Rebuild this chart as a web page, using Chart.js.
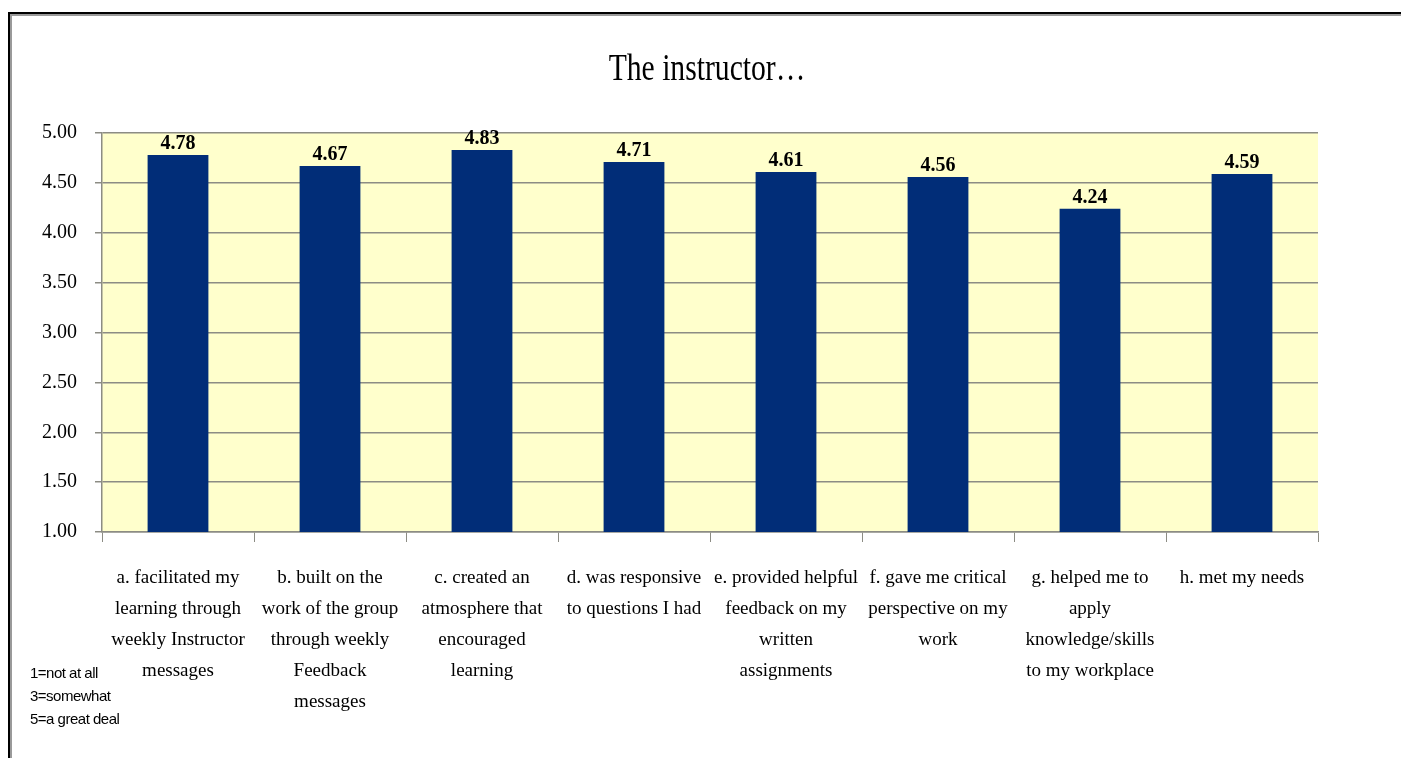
<!DOCTYPE html>
<html>
<head>
<meta charset="utf-8">
<script src="https://cdn.jsdelivr.net/npm/chart.js@4"></script>
<style>
html,body{margin:0;padding:0;background:#fff;overflow:hidden}
#wrap{position:relative;width:1401px;height:758px;overflow:hidden}
#frame{position:absolute;left:8px;top:12px;width:1500px;height:900px;border-top:2px solid #000;border-left:2px solid #000;box-shadow:inset 2px 2px 0 #9a9a9a}
#cbox{position:absolute;left:0;top:0;width:1401px;height:758px}
#note{position:absolute;left:30px;top:661px;font-family:"Liberation Sans",Arial,sans-serif;font-size:15px;line-height:23px;color:#000;letter-spacing:-0.5px}
</style>
</head>
<body>
<div id="wrap">
  <div id="frame"></div>
  <div id="cbox"><canvas id="c"></canvas></div>
  <div id="note">1=not at all<br>3=somewhat<br>5=a great deal</div>
</div>
<script>
const chartTitle = 'The instructor\u2026';
const categories = [
  ['a. facilitated my', 'learning through', 'weekly Instructor', 'messages'],
  ['b. built on the', 'work of the group', 'through weekly', 'Feedback', 'messages'],
  ['c. created an', 'atmosphere that', 'encouraged', 'learning'],
  ['d. was responsive', 'to questions I had'],
  ['e. provided helpful', 'feedback on my', 'written', 'assignments'],
  ['f. gave me critical', 'perspective on my', 'work'],
  ['g. helped me to', 'apply', 'knowledge/skills', 'to my workplace'],
  ['h. met my needs']
];
const values = [4.78, 4.67, 4.83, 4.71, 4.61, 4.56, 4.24, 4.59];
const yMin = 1;
const yMax = 5;
const yStep = 0.5;

const SERIF = '"Liberation Serif", "Times New Roman", serif';
const GRID = '#8c8c84';

const plotBg = {
  id: 'plotBg',
  beforeDraw(chart) {
    const a = chart.chartArea, ctx = chart.ctx;
    ctx.save();
    ctx.fillStyle = '#FFFFCC';
    ctx.fillRect(a.left, a.top, a.right - a.left, a.bottom - a.top);
    ctx.restore();
  }
};

const valueLabels = {
  id: 'valueLabels',
  afterDatasetsDraw(chart) {
    const ctx = chart.ctx;
    const meta = chart.getDatasetMeta(0);
    ctx.save();
    ctx.font = 'bold 20px ' + SERIF;
    ctx.fillStyle = '#000';
    ctx.textAlign = 'center';
    ctx.textBaseline = 'alphabetic';
    meta.data.forEach((bar, i) => {
      ctx.fillText(values[i].toFixed(2), bar.x, bar.y - 6);
    });
    ctx.restore();
  }
};

const titleDraw = {
  id: 'titleDraw',
  afterDraw(chart) {
    const ctx = chart.ctx;
    const a = chart.chartArea;
    ctx.save();
    ctx.translate((a.left + a.right) / 2 - 3, 80);
    ctx.scale(0.78, 1);
    ctx.font = '38px ' + SERIF;
    ctx.fillStyle = '#000';
    ctx.textAlign = 'center';
    ctx.textBaseline = 'alphabetic';
    ctx.fillText(chartTitle, 0, 0);
    ctx.restore();
  }
};

new Chart(document.getElementById('c'), {
  type: 'bar',
  data: {
    labels: categories,
    datasets: [{
      data: values,
      backgroundColor: '#012d78',
      borderWidth: 0,
      barPercentage: 0.4,
      categoryPercentage: 1.0
    }]
  },
  options: {
    responsive: true,
    maintainAspectRatio: false,
    animation: false,
    layout: { padding: { top: 133, right: 83, bottom: 0, left: 0 } },
    plugins: {
      legend: { display: false },
      tooltip: { enabled: false },
      title: { display: false }
    },
    scales: {
      x: {
        grid: { display: true, drawOnChartArea: false, drawTicks: true, tickLength: 10, color: GRID, offset: true },
        border: { display: true, color: GRID, width: 1.5 },
        ticks: {
          color: '#000',
          font: { family: SERIF, size: 19, lineHeight: 1.63 },
          padding: 21,
          maxRotation: 0,
          minRotation: 0,
          autoSkip: false
        },
        afterFit(s) { s.height = 226; }
      },
      y: {
        min: yMin,
        max: yMax,
        grid: { color: GRID, lineWidth: 1.5, tickLength: 7, drawTicks: true },
        border: { display: true, color: GRID, width: 1.5 },
        ticks: {
          stepSize: yStep,
          color: '#000',
          font: { family: SERIF, size: 20 },
          padding: 18,
          callback: v => Number(v).toFixed(2)
        },
        afterFit(s) { s.width = 102; }
      }
    }
  },
  plugins: [plotBg, valueLabels, titleDraw]
});
</script>
</body>
</html>
